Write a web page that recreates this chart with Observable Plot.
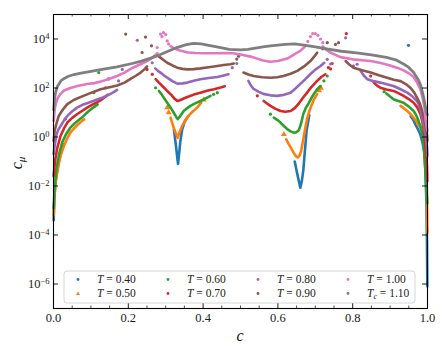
<!DOCTYPE html>
<html><head><meta charset="utf-8">
<script src="https://cdn.jsdelivr.net/npm/d3@7"></script>
<script src="https://cdn.jsdelivr.net/npm/@observablehq/plot@0.6"></script>
<style>body{margin:0;background:#fff}#chart{width:440px;height:347px}</style>
</head><body><div id="chart"></div>
<script>
// ---- series labels (legend order) ----
const seriesNames = ["T040","T050","T060","T070","T080","T090","T100","Tc110"];
const legendTemps = ["0.40","0.50","0.60","0.70","0.80","0.90","1.00","1.10"];

// ---- tick values ----
const xMajor = [0, 0.2, 0.4, 0.6, 0.8, 1.0];
const xMinor = [0.05,0.1,0.15,0.25,0.3,0.35,0.45,0.5,0.55,0.65,0.7,0.75,0.85,0.9,0.95];
const yMajor = [1e-6, 1e-4, 1e-2, 1, 1e2, 1e4];

// ---- data: c values and log10(c_mu) values (null = gap between branches) ----
const T040_c  = [0.0005,0.002,0.005,0.01,0.016,0.022,0.028,null,0.322,0.327,0.331,0.333,0.335,0.339,0.344,0.35,0.36,null,0.645,0.651,0.656,0.66,0.664,0.668,0.672,0.677,0.684,null,0.955,0.962,0.968,0.975,0.981,0.987,0.991,0.994,0.997,0.9985,0.9995];
const T040_lg = [-3.4,-2.6,-1.9,-1.35,-0.9,-0.55,-0.3,null,0.3,-0.3,-0.85,-1.1,-0.8,-0.2,0.3,0.6,0.85,null,-1.0,-1.45,-1.8,-2.07,-1.8,-1.35,-0.6,0.3,0.9,null,0.85,0.7,0.5,0.3,0.1,-0.25,-0.6,-1.3,-2.6,-4.2,-6.1];
const T040_sc  = [0.032,0.949];
const T040_slg = [0.74,3.74];

const T050_c  = [0.0005,0.003,0.006,0.01,0.018,0.028,0.037,0.045,0.055,0.063,0.072,0.082,null,0.313,0.318,0.322,0.327,0.332,0.337,0.344,0.352,0.362,0.373,0.384,0.395,null,0.622,0.629,0.636,0.642,0.648,0.653,0.658,0.662,0.666,0.669,0.673,0.678,0.684,0.69,0.697,0.705,null,0.928,0.937,0.946,0.955,0.963,0.972,0.981,0.987,0.992,0.995,0.997,0.9985,0.9995];
const T050_lg = [-3.2,-2.3,-1.8,-1.45,-0.8,-0.36,-0.05,0.18,0.35,0.48,0.6,0.72,null,0.79,0.55,0.35,0.15,-0.03,0.2,0.45,0.68,0.88,1.05,1.2,1.4,null,-0.1,-0.29,-0.47,-0.64,-0.78,-0.84,-0.76,-0.58,-0.25,0.0,0.35,0.75,1.05,1.3,1.55,1.75,null,1.27,1.17,1.06,0.93,0.79,0.6,0.38,0.1,-0.28,-0.8,-1.38,-2.4,-3.9];
const T050_sc  = [0.304,0.308,0.402,0.616,0.71,0.715];
const T050_slg = [1.2,1.0,1.52,0.11,1.9,2.0];

const T060_c  = [0.0005,0.003,0.008,0.015,0.023,0.033,0.045,0.057,0.07,0.08,0.09,0.1,0.108,0.118,null,0.282,0.289,0.295,0.304,0.313,0.322,0.328,0.332,0.337,0.343,0.348,0.357,0.366,0.38,0.393,0.407,0.42,null,0.589,0.598,0.607,0.616,0.625,0.634,0.642,0.649,0.656,0.662,0.668,0.675,0.682,0.69,0.698,0.705,0.714,null,0.89,0.9,0.909,0.92,0.936,0.95,0.963,0.97,0.976,0.982,0.986,0.99,0.993,0.996,0.9995];
const T060_lg = [-2.9,-2.1,-1.3,-0.7,-0.23,0.1,0.38,0.56,0.72,0.85,1.0,1.13,1.22,1.33,null,1.88,1.74,1.6,1.4,1.2,0.98,0.82,0.73,0.82,0.95,1.06,1.17,1.27,1.38,1.47,1.58,1.68,null,0.79,0.7,0.59,0.45,0.32,0.23,0.18,0.19,0.28,0.55,0.94,1.2,1.37,1.6,1.8,1.95,2.08,null,1.78,1.65,1.54,1.48,1.4,1.24,1.06,0.88,0.66,0.4,0.13,-0.35,-0.97,-1.8,-2.7];
const T060_sc  = [0.108,0.121,0.273,0.428,0.438,0.58,0.723,0.732,0.884];
const T060_slg = [1.81,2.63,2.01,1.74,1.81,0.93,2.29,2.49,1.85];

const T070_c  = [0.0005,0.002,0.005,0.01,0.019,0.028,0.037,0.05,0.063,0.077,0.09,0.104,0.117,0.128,0.137,0.145,null,0.273,0.282,0.293,0.304,0.315,0.324,0.331,0.338,0.348,0.358,0.375,0.393,0.41,0.429,0.447,0.458,null,0.562,0.571,0.58,0.594,0.607,0.62,0.634,0.645,0.655,0.666,0.678,0.69,0.705,0.716,0.727,null,0.856,0.865,0.874,0.89,0.909,0.922,0.936,0.95,0.963,0.973,0.981,0.986,0.989,0.993,0.996,0.9985,0.9995];
const T070_lg = [-1.6,-1.3,-0.89,-0.45,0.05,0.35,0.59,0.78,0.93,1.07,1.2,1.32,1.42,1.52,1.62,1.72,null,2.36,2.22,2.05,1.88,1.72,1.56,1.47,1.5,1.57,1.63,1.73,1.81,1.89,1.95,2.02,2.07,null,1.47,1.37,1.27,1.15,1.06,1.03,1.06,1.18,1.35,1.58,1.81,2.05,2.29,2.45,2.56,null,2.22,2.1,2.01,1.94,1.88,1.79,1.68,1.55,1.4,1.2,0.94,0.65,0.38,-0.1,-0.6,-1.2,-1.8];
const T070_sc  = [0.139,0.147,0.25,0.264,0.545,0.735,0.741,0.745,0.783,0.848];
const T070_slg = [2.01,2.37,2.76,2.56,1.68,2.83,2.78,3.0,4.22,2.49];

const T080_c  = [0.0005,0.003,0.008,0.013,0.019,0.028,0.037,0.05,0.063,0.08,0.099,0.115,0.13,0.145,0.155,0.163,0.17,null,0.272,0.279,0.286,0.295,0.304,0.318,0.331,0.345,0.358,0.375,0.393,0.415,0.438,0.455,0.468,null,0.521,0.528,0.535,0.548,0.561,0.58,0.598,0.616,0.634,0.647,0.66,0.674,0.687,0.7,0.714,0.724,null,0.821,0.83,0.839,0.856,0.874,0.891,0.909,0.928,0.946,0.96,0.972,0.98,0.986,0.991,0.995,0.9985,0.9995];
const T080_lg = [-0.7,-0.36,0.1,0.3,0.45,0.68,0.86,1.05,1.2,1.33,1.43,1.52,1.6,1.7,1.78,1.85,1.92,null,2.8,2.7,2.63,2.52,2.42,2.28,2.18,2.19,2.22,2.3,2.36,2.41,2.45,2.51,2.56,null,2.29,2.1,1.96,1.85,1.76,1.7,1.68,1.72,1.81,1.98,2.17,2.37,2.57,2.75,2.9,3.03,null,2.7,2.5,2.36,2.28,2.22,2.15,2.08,1.95,1.81,1.65,1.47,1.2,0.79,0.4,0.05,-0.4,-0.77];
const T080_sc  = [0.174,0.184,0.224,0.264,0.478,0.49,0.732,0.741,0.781,0.802,0.812];
const T080_slg = [2.29,2.76,3.95,3.03,2.83,3.0,3.17,2.98,4.05,2.9,2.97];

const T090_c  = [0.0005,0.003,0.007,0.014,0.025,0.037,0.055,0.08,0.1,0.126,0.15,0.17,0.19,0.206,0.22,0.233,0.243,0.25,null,0.28,0.286,0.295,0.304,0.318,0.331,0.345,0.358,0.375,0.393,0.415,0.438,0.455,0.473,0.482,null,0.508,0.521,0.535,0.558,0.58,0.598,0.615,0.634,0.652,0.67,0.687,0.697,0.705,null,0.781,0.79,0.802,0.825,0.848,0.87,0.892,0.91,0.928,0.943,0.955,0.965,0.972,0.98,0.986,0.991,0.995,0.9985,0.9995];
const T090_lg = [-0.16,0.25,0.5,0.86,1.12,1.34,1.52,1.68,1.8,1.95,2.03,2.1,2.22,2.37,2.5,2.63,2.76,2.88,null,3.3,3.24,3.13,3.03,2.92,2.83,2.78,2.76,2.77,2.8,2.85,2.9,2.94,2.97,3.0,null,2.63,2.55,2.49,2.44,2.42,2.44,2.49,2.58,2.7,2.88,3.1,3.28,3.44,null,3.1,2.97,2.83,2.72,2.63,2.52,2.42,2.34,2.28,2.15,2.0,1.8,1.61,1.35,1.06,0.7,0.45,0.1,-0.16];
const T090_sc  = [0.193,0.237,0.246,0.262,0.27,0.49,0.495,0.72,0.732,0.754,0.762];
const T090_slg = [4.2,3.45,4.08,3.72,3.3,3.18,3.3,3.6,3.85,3.78,3.85];

const T100_c  = [0.0005,0.003,0.006,0.01,0.018,0.028,0.045,0.064,0.09,0.11,0.126,0.15,0.17,0.19,0.206,0.225,0.241,0.259,0.27,0.278,null,0.313,0.32,0.33,0.34,0.36,0.38,0.4,0.43,0.46,0.48,0.5,0.53,0.56,0.58,0.6,0.625,0.645,0.66,0.672,null,0.72,0.73,0.74,0.767,0.8,0.825,0.848,0.875,0.9,0.92,0.936,0.95,0.963,0.973,0.981,0.987,0.992,0.995,0.9985,0.9995];
const T100_lg = [0.66,1.1,1.35,1.55,1.75,1.9,2.0,2.08,2.16,2.2,2.26,2.38,2.49,2.63,2.78,2.92,3.03,3.18,3.3,3.42,null,3.71,3.65,3.57,3.52,3.45,3.43,3.42,3.42,3.43,3.42,3.37,3.27,3.12,3.07,3.1,3.2,3.38,3.52,3.68,null,3.7,3.55,3.45,3.26,3.17,3.13,3.1,3.02,2.92,2.82,2.72,2.6,2.45,2.2,1.95,1.6,1.2,0.7,0.35,0.25];
const T100_sc  = [0.277,0.286,0.29,0.294,0.3,0.304,0.308,0.68,0.687,0.693,0.7,0.707,0.714,0.72];
const T100_slg = [3.65,4.2,4.1,4.26,4.18,3.92,3.8,3.9,4.1,4.22,4.22,4.15,4.0,3.85];

const Tc110_c  = [0.0005,0.003,0.006,0.01,0.02,0.03,0.04,0.055,0.07,0.1,0.13,0.17,0.21,0.235,0.26,0.28,0.3,0.33,0.355,0.375,0.395,0.415,0.44,0.47,0.5,0.52,0.54,0.56,0.58,0.6,0.62,0.645,0.67,0.7,0.73,0.77,0.81,0.85,0.89,0.915,0.936,0.95,0.963,0.975,0.982,0.99,0.996,0.9995];
const Tc110_lg = [1.1,1.6,1.85,2.05,2.3,2.4,2.48,2.55,2.6,2.68,2.76,2.86,3.0,3.1,3.22,3.33,3.46,3.65,3.77,3.82,3.8,3.74,3.67,3.58,3.56,3.58,3.63,3.68,3.72,3.75,3.78,3.8,3.75,3.68,3.6,3.5,3.43,3.35,3.25,3.15,2.98,2.84,2.63,2.35,2.1,1.6,1.1,0.9];
const Tc110_sc  = [];
const Tc110_slg = [];

const denseC  = [T040_c, T050_c, T060_c, T070_c, T080_c, T090_c, T100_c, Tc110_c];
const denseLg = [T040_lg, T050_lg, T060_lg, T070_lg, T080_lg, T090_lg, T100_lg, Tc110_lg];
const sparseC  = [T040_sc, T050_sc, T060_sc, T070_sc, T080_sc, T090_sc, T100_sc, Tc110_sc];
const sparseLg = [T040_slg, T050_slg, T060_slg, T070_slg, T080_slg, T090_slg, T100_slg, Tc110_slg];

// ---- styles ----
const colors = ["#1f77b4","#ff7f0e","#2ca02c","#d62728","#9467bd","#8c564b","#e377c2","#7f7f7f"];
const symbols = ["circle","triangle","circle","circle","circle","circle","circle","circle"];

const toRows = (cs, lgs, name) => cs.map((c, i) => ({
  series: name,
  c: c == null ? NaN : c,
  v: lgs[i] == null ? NaN : Math.pow(10, lgs[i])
}));

const serif = "'Liberation Serif','DejaVu Serif',serif";
const W = 440, H = 347, mL = 53, mR = 13, mT = 14, mB = 39;
const frameW = W - mL - mR, frameH = H - mT - mB;

const marks = [];
seriesNames.forEach((name, k) => {
  marks.push(Plot.line(toRows(denseC[k], denseLg[k], name), {
    x: "c", y: "v", stroke: colors[k], strokeWidth: k === 7 ? 2.8 : 2.6, strokeLinejoin: "round", strokeLinecap: "round"
  }));
  marks.push(Plot.dot(toRows(sparseC[k], sparseLg[k], name), {
    x: "c", y: "v", fill: colors[k], stroke: "none", r: k === 1 ? 2.2 : 1.6, symbol: symbols[k]
  }));
});

// ticks pointing inwards on all four sides
marks.push(
  Plot.tickX(xMajor, {x: d => d, insetTop: frameH - 5, stroke: "black", strokeWidth: 0.9}),
  Plot.tickX(xMajor, {x: d => d, insetBottom: frameH - 5, stroke: "black", strokeWidth: 0.9}),
  Plot.tickX(xMinor, {x: d => d, insetTop: frameH - 2.5, stroke: "black", strokeWidth: 0.7}),
  Plot.tickX(xMinor, {x: d => d, insetBottom: frameH - 2.5, stroke: "black", strokeWidth: 0.7}),
  Plot.tickY(yMajor, {y: d => d, insetRight: frameW - 5, stroke: "black", strokeWidth: 0.9}),
  Plot.tickY(yMajor, {y: d => d, insetLeft: frameW - 5, stroke: "black", strokeWidth: 0.9}),
  Plot.axisX(xMajor, {tickSize: 0, tickPadding: 5, tickFormat: d3.format(".1f"), label: null, fontSize: 12.5, fontFamily: serif, fill: "#222"}),
  Plot.axisY(yMajor, {tickSize: 0, tickPadding: 4, tickFormat: d => String(Math.round(Math.log10(d))), label: null, fontSize: 12.5, fontFamily: serif, fill: "#222"}),
  Plot.frame({stroke: "black", strokeWidth: 1.1})
);

const chart = Plot.plot({
  width: W, height: H,
  marginLeft: mL, marginRight: mR, marginTop: mT, marginBottom: mB,
  x: {domain: [0, 1]},
  y: {type: "log", domain: [1e-7, 1e5]},
  style: {fontFamily: serif, fontSize: "12px", background: "white", overflow: "visible"},
  marks
});
document.getElementById("chart").appendChild(chart);

const svg = d3.select(chart);

// y tick labels as 10^n with raised exponent
svg.selectAll('g[aria-label="y-axis tick label"] text').each(function() {
  const t = d3.select(this);
  const e = t.text().replace("-", "\u2212");
  t.text("");
  t.append("tspan").text("10");
  t.append("tspan").attr("dy", "-0.45em").attr("font-size", "8.5px").text(e);
});

// axis titles
svg.append("text").attr("x", 240).attr("y", 341).attr("text-anchor", "middle")
  .attr("font-family", serif).attr("font-style", "italic").attr("font-size", 16).attr("fill", "#111").text("c");
const yl = svg.append("text").attr("transform", "translate(22,163) rotate(-90)").attr("text-anchor", "middle")
  .attr("font-family", serif).attr("font-style", "italic").attr("font-size", 16).attr("fill", "#111");
yl.append("tspan").text("c");
yl.append("tspan").attr("dy", "3").attr("font-size", 11).text("\u03bc");

// legend
const lg = svg.append("g").attr("text-anchor", "start");
lg.append("rect").attr("x", 64).attr("y", 271).attr("width", 351).attr("height", 32).attr("rx", 3)
  .attr("fill", "white").attr("fill-opacity", 0.85).attr("stroke", "#cccccc").attr("stroke-width", 0.8);
legendTemps.forEach((tv, k) => {
  const col = Math.floor(k / 2), row = k % 2;
  const mx = 78 + 90 * col, my = 279.5 + 14 * row;
  if (symbols[k] === "triangle") {
    lg.append("path").attr("d", `M${mx},${my - 2}L${mx + 2},${my + 1.5}L${mx - 2},${my + 1.5}Z`).attr("fill", colors[k]);
  } else {
    lg.append("circle").attr("cx", mx).attr("cy", my).attr("r", 1.4).attr("fill", colors[k]);
  }
  const t = lg.append("text").attr("x", 97 + 90 * col).attr("y", my + 3.8).attr("text-anchor", "start")
    .attr("font-family", serif).attr("font-size", 11.5).attr("fill", "#222");
  t.append("tspan").attr("font-style", "italic").text("T");
  if (k === 7) t.append("tspan").attr("font-style", "italic").attr("font-size", 8).attr("dy", 2).text("c");
  t.append("tspan").attr("dy", k === 7 ? -2 : 0).text(" = " + tv);
});
</script>
</body></html>
